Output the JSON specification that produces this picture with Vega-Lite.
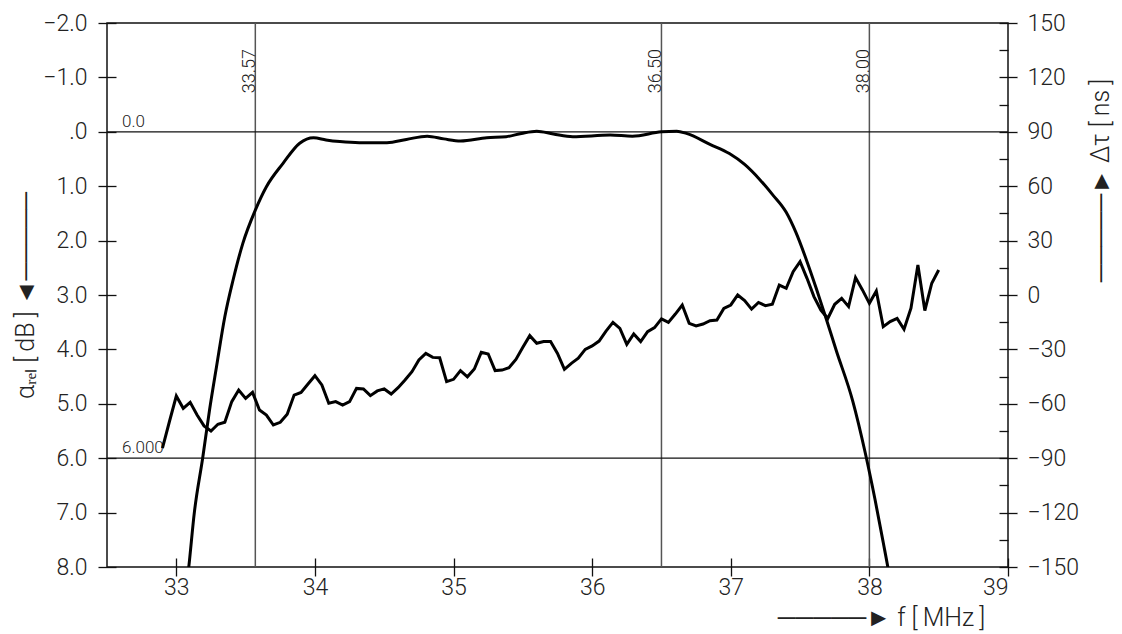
{
  "$schema": "https://vega.github.io/schema/vega-lite/v6.json",
  "width": 901,
  "height": 544,
  "autosize": {"type": "none"},
  "padding": {"left": 107, "top": 23, "right": 114, "bottom": 67},
  "background": "white",
  "config": {
    "view": {"stroke": "#111", "strokeWidth": 1.5},
    "font": "Roboto, DejaVu Sans",
    "axis": {
      "domain": false,
      "grid": false,
      "offset": -9,
      "tickColor": "#111",
      "tickWidth": 1.3,
      "labelFont": "Roboto, DejaVu Sans",
      "labelFontWeight": 300,
      "labelFontSize": 23,
      "labelColor": "#222",
      "titleFont": "Roboto, DejaVu Sans",
      "titleFontWeight": 300,
      "titleFontSize": 25,
      "titleColor": "#222"
    }
  },
  "layer": [
    {
      "layer": [
        {
          "data": {"values": [{"f": 33.57, "label": "33.57"}, {"f": 36.5, "label": "36.50"}, {"f": 38.0, "label": "38.00"}]},
          "mark": {"type": "rule", "color": "#555", "strokeWidth": 1.5},
          "encoding": {
            "x": {"field": "f", "type": "quantitative", "scale": {"domain": [32.5, 39], "nice": false, "zero": false},
              "axis": {"values": [33, 34, 35, 36, 37, 38, 39], "tickSize": 18, "labelPadding": 0, "title": "─────►   f  [\u2009MHz\u2009]", "titleX": 774, "titleY": 59, "titleAlign": "center", "titleBaseline": "middle"}}
          }
        },
        {
          "data": {"values": [{"f": 33.57, "label": "33.57"}, {"f": 36.5, "label": "36.50"}, {"f": 38.0, "label": "38.00"}]},
          "mark": {"type": "text", "angle": 270, "align": "left", "baseline": "alphabetic", "dx": -5, "fontSize": 18, "fontWeight": 300, "color": "#222"},
          "encoding": {
            "x": {"field": "f", "type": "quantitative", "scale": {"domain": [32.5, 39], "nice": false, "zero": false},
              "axis": {"values": [33, 34, 35, 36, 37, 38, 39], "tickSize": 18, "labelPadding": 0, "title": "─────►   f  [\u2009MHz\u2009]", "titleX": 774, "titleY": 59, "titleAlign": "center", "titleBaseline": "middle"}},
            "y": {"datum": -0.8, "type": "quantitative"},
            "text": {"field": "label"}
          }
        },
        {
          "data": {"values": [{"a": 0, "label": "0.0"}, {"a": 6, "label": "6.000"}]},
          "mark": {"type": "rule", "color": "#111", "strokeWidth": 1.3},
          "encoding": {"y": {"field": "a", "type": "quantitative"}}
        },
        {
          "data": {"values": [{"a": 0, "label": "0.0"}, {"a": 6, "label": "6.000"}]},
          "mark": {"type": "text", "align": "left", "baseline": "alphabetic", "dx": 15, "dy": -5, "fontSize": 17, "fontWeight": 300, "color": "#222"},
          "encoding": {
            "x": {"datum": 32.5, "type": "quantitative", "scale": {"domain": [32.5, 39], "nice": false, "zero": false},
              "axis": {"values": [33, 34, 35, 36, 37, 38, 39], "tickSize": 18, "labelPadding": 0, "title": "─────►   f  [\u2009MHz\u2009]", "titleX": 774, "titleY": 59, "titleAlign": "center", "titleBaseline": "middle"}},
            "y": {"field": "a", "type": "quantitative"},
            "text": {"field": "label"}
          }
        },
        {
          "data": {"values": [
            {"f": 33.03, "a": 9.2}, {"f": 33.09, "a": 8.0}, {"f": 33.13, "a": 7.0}, {"f": 33.19, "a": 6.0},
            {"f": 33.24, "a": 5.11}, {"f": 33.29, "a": 4.32}, {"f": 33.35, "a": 3.4}, {"f": 33.41, "a": 2.72},
            {"f": 33.48, "a": 2.05}, {"f": 33.57, "a": 1.44}, {"f": 33.65, "a": 1.01}, {"f": 33.77, "a": 0.58},
            {"f": 33.89, "a": 0.21}, {"f": 33.99, "a": 0.11}, {"f": 34.08, "a": 0.15}, {"f": 34.18, "a": 0.18},
            {"f": 34.32, "a": 0.2}, {"f": 34.52, "a": 0.2}, {"f": 34.66, "a": 0.14}, {"f": 34.81, "a": 0.08},
            {"f": 34.93, "a": 0.13}, {"f": 35.05, "a": 0.17}, {"f": 35.24, "a": 0.11}, {"f": 35.38, "a": 0.09},
            {"f": 35.49, "a": 0.03}, {"f": 35.6, "a": -0.01}, {"f": 35.72, "a": 0.04}, {"f": 35.86, "a": 0.09},
            {"f": 36.13, "a": 0.06}, {"f": 36.29, "a": 0.08}, {"f": 36.5, "a": 0.0}, {"f": 36.61, "a": -0.01},
            {"f": 36.68, "a": 0.03}, {"f": 36.85, "a": 0.23}, {"f": 36.99, "a": 0.4}, {"f": 37.1, "a": 0.6},
            {"f": 37.21, "a": 0.88}, {"f": 37.3, "a": 1.15}, {"f": 37.4, "a": 1.48}, {"f": 37.47, "a": 1.85},
            {"f": 37.545, "a": 2.35}, {"f": 37.617, "a": 2.88}, {"f": 37.689, "a": 3.44}, {"f": 37.761, "a": 4.02},
            {"f": 37.88, "a": 4.95}, {"f": 37.97, "a": 5.9}, {"f": 38.04, "a": 6.75}, {"f": 38.1, "a": 7.55},
            {"f": 38.14, "a": 8.1}, {"f": 38.19, "a": 8.9}
          ]},
          "mark": {"type": "line", "color": "#000", "strokeWidth": 3, "interpolate": "monotone", "clip": true},
          "encoding": {
            "x": {"field": "f", "type": "quantitative", "scale": {"domain": [32.5, 39], "nice": false, "zero": false},
              "axis": {"values": [33, 34, 35, 36, 37, 38, 39], "tickSize": 18, "labelPadding": 0, "title": "─────►   f  [\u2009MHz\u2009]", "titleX": 774, "titleY": 59, "titleAlign": "center", "titleBaseline": "middle"}},
            "y": {
              "field": "a", "type": "quantitative",
              "scale": {"domain": [-2, 8], "reverse": true, "nice": false, "zero": false},
              "axis": {
                "values": [-2, -1, 0, 1, 2, 3, 4, 5, 6, 7, 8],
                "tickSize": 18,
                "labelPadding": 11,
                "labelExpr": "datum.value == 0 ? '.0' : format(datum.value, '.1f')",
                "title": "αᵣₑₗ  [\u2009dB\u2009]      ◄─────",
                "titleAngle": -90,
                "titleX": -91,
                "titleY": 272,
                "titleAlign": "center",
                "titleBaseline": "middle"
              }
            }
          }
        }
      ]
    },
    {
      "data": {"values": [
        {"f": 32.9, "d": -84.5}, {"f": 32.95, "d": -69.9}, {"f": 33.0, "d": -55.7}, {"f": 33.05, "d": -62.5},
        {"f": 33.1, "d": -59.2}, {"f": 33.15, "d": -66.2}, {"f": 33.2, "d": -72.2}, {"f": 33.25, "d": -75.0},
        {"f": 33.3, "d": -71.3}, {"f": 33.35, "d": -70.2}, {"f": 33.4, "d": -58.8}, {"f": 33.45, "d": -52.4},
        {"f": 33.5, "d": -57.0}, {"f": 33.55, "d": -53.7}, {"f": 33.6, "d": -63.4}, {"f": 33.65, "d": -66.2},
        {"f": 33.7, "d": -71.7}, {"f": 33.75, "d": -70.2}, {"f": 33.8, "d": -65.8}, {"f": 33.85, "d": -55.2},
        {"f": 33.9, "d": -53.7}, {"f": 33.95, "d": -49.1}, {"f": 34.0, "d": -44.5}, {"f": 34.05, "d": -49.6},
        {"f": 34.1, "d": -59.7}, {"f": 34.15, "d": -58.8}, {"f": 34.2, "d": -60.7}, {"f": 34.25, "d": -58.8},
        {"f": 34.3, "d": -51.5}, {"f": 34.35, "d": -51.8}, {"f": 34.4, "d": -55.5}, {"f": 34.45, "d": -52.9},
        {"f": 34.5, "d": -51.8}, {"f": 34.55, "d": -54.6}, {"f": 34.6, "d": -51.1}, {"f": 34.65, "d": -46.9},
        {"f": 34.7, "d": -42.3}, {"f": 34.75, "d": -35.8}, {"f": 34.8, "d": -32.2}, {"f": 34.85, "d": -34.4},
        {"f": 34.9, "d": -34.6}, {"f": 34.95, "d": -47.8}, {"f": 35.0, "d": -46.5}, {"f": 35.05, "d": -41.7},
        {"f": 35.1, "d": -45.1}, {"f": 35.15, "d": -40.8}, {"f": 35.2, "d": -31.6}, {"f": 35.25, "d": -32.5},
        {"f": 35.3, "d": -41.7}, {"f": 35.35, "d": -41.4}, {"f": 35.4, "d": -40.1}, {"f": 35.45, "d": -35.5},
        {"f": 35.5, "d": -28.8}, {"f": 35.55, "d": -22.4}, {"f": 35.6, "d": -26.6}, {"f": 35.65, "d": -25.7},
        {"f": 35.7, "d": -25.7}, {"f": 35.75, "d": -32.2}, {"f": 35.8, "d": -41.0}, {"f": 35.85, "d": -37.7},
        {"f": 35.9, "d": -34.9}, {"f": 35.95, "d": -30.0}, {"f": 36.0, "d": -28.1}, {"f": 36.05, "d": -25.4},
        {"f": 36.1, "d": -19.9}, {"f": 36.15, "d": -15.1}, {"f": 36.2, "d": -18.4}, {"f": 36.25, "d": -27.2},
        {"f": 36.3, "d": -21.5}, {"f": 36.35, "d": -25.7}, {"f": 36.4, "d": -20.2}, {"f": 36.45, "d": -18.0},
        {"f": 36.5, "d": -13.2}, {"f": 36.55, "d": -15.1}, {"f": 36.6, "d": -10.5}, {"f": 36.65, "d": -5.5},
        {"f": 36.7, "d": -15.6}, {"f": 36.75, "d": -17.1}, {"f": 36.8, "d": -16.0}, {"f": 36.85, "d": -14.2},
        {"f": 36.9, "d": -13.8}, {"f": 36.95, "d": -7.4}, {"f": 37.0, "d": -5.5}, {"f": 37.05, "d": 0.0},
        {"f": 37.1, "d": -3.1}, {"f": 37.15, "d": -7.8}, {"f": 37.2, "d": -4.1}, {"f": 37.25, "d": -5.9},
        {"f": 37.3, "d": -5.1}, {"f": 37.35, "d": 5.5}, {"f": 37.4, "d": 3.7}, {"f": 37.45, "d": 12.9},
        {"f": 37.5, "d": 18.4}, {"f": 37.55, "d": 9.2}, {"f": 37.6, "d": -0.9}, {"f": 37.65, "d": -8.3},
        {"f": 37.7, "d": -12.9}, {"f": 37.75, "d": -5.1}, {"f": 37.8, "d": -1.8}, {"f": 37.85, "d": -6.4},
        {"f": 37.9, "d": 9.6}, {"f": 37.95, "d": 2.8}, {"f": 38.0, "d": -4.6}, {"f": 38.05, "d": 2.2},
        {"f": 38.1, "d": -17.5}, {"f": 38.15, "d": -14.7}, {"f": 38.2, "d": -12.9}, {"f": 38.25, "d": -18.9},
        {"f": 38.3, "d": -7.3}, {"f": 38.35, "d": 16.5}, {"f": 38.4, "d": -8.6}, {"f": 38.45, "d": 6.5},
        {"f": 38.5, "d": 13.8}
      ]},
      "mark": {"type": "line", "color": "#000", "strokeWidth": 3, "clip": true},
      "encoding": {
        "x": {"field": "f", "type": "quantitative", "scale": {"domain": [32.5, 39], "nice": false, "zero": false},
          "axis": {"values": [33, 34, 35, 36, 37, 38, 39], "tickSize": 18, "labelPadding": 0, "title": "─────►   f  [\u2009MHz\u2009]", "titleX": 774, "titleY": 59, "titleAlign": "center", "titleBaseline": "middle"}},
        "y": {
          "field": "d", "type": "quantitative",
          "scale": {"domain": [-150, 150], "nice": false, "zero": false},
          "axis": {
            "orient": "right",
            "values": [-150, -135, -120, -105, -90, -75, -60, -45, -30, -15, 0, 15, 30, 45, 60, 75, 90, 105, 120, 135, 150],
            "tickSize": {"condition": {"test": "datum.value % 30 == 0", "value": 18}, "value": 9},
            "labelPadding": 10,
            "labelExpr": "datum.value % 30 == 0 ? format(datum.value, 'd') : ''",
            "title": "─────►      Δτ  [\u2009ns\u2009]",
            "titleAngle": -90,
            "titleX": 101,
            "titleY": 157,
            "titleAlign": "center",
            "titleBaseline": "middle"
          }
        }
      }
    }
  ],
  "resolve": {"scale": {"y": "independent"}}
}
